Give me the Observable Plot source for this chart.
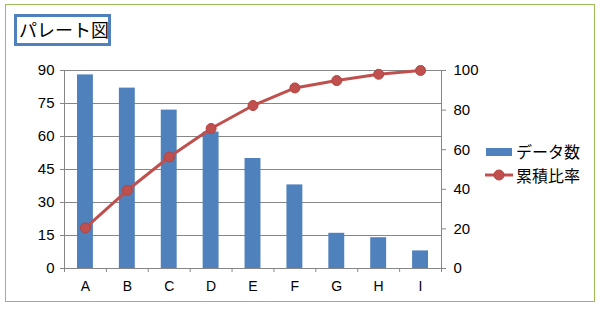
<!DOCTYPE html>
<html><head><meta charset="utf-8">
<script src="https://cdn.jsdelivr.net/npm/d3@7"></script>
<script src="https://cdn.jsdelivr.net/npm/@observablehq/plot@0.6"></script>
<style>
body{margin:0;background:#fff}
#wrap{position:relative;width:601px;height:309px;overflow:hidden;background:#fff}
#border{position:absolute;left:5px;top:4px;width:590px;height:298px;border:1px solid #9BBB59;box-sizing:border-box}
#title{position:absolute;left:14px;top:14px;width:97px;height:32px;box-sizing:border-box;border:3px solid #4F81BD;
  font-family:"Noto Sans CJK JP",sans-serif;font-size:18px;line-height:25px;padding-left:2px;color:#000;white-space:nowrap;background:#fff}
#chart{position:absolute;left:0;top:0}
.leg{position:absolute;font-family:"Noto Sans CJK JP",sans-serif;font-size:16px;color:#000;white-space:nowrap;display:flex;align-items:center}
.leg svg{margin-right:1px}
</style></head>
<body>
<div id="wrap">
  <div id="border"></div>
  <div id="chart"></div>
  <div id="title">パレート図</div>
  <div class="leg" id="leg1" style="left:485px;top:139px;height:24px"></div>
  <div class="leg" id="leg2" style="left:484px;top:163px;height:24px"></div>
</div>
<script>
const categories = ["A","B","C","D","E","F","G","H","I"];
const counts = [88, 82, 72, 62, 50, 38, 16, 14, 8];
const ratios = [20.5, 39.5, 56.3, 70.7, 82.3, 91.2, 94.9, 98.1, 100];
const leftTicks = [0, 15, 30, 45, 60, 75, 90];
const rightTicks = [0, 20, 40, 60, 80, 100];
const seriesNames = ["データ数", "累積比率"];

const barColor = "#4F81BD";
const lineColor = "#C0504D";
const gridColor = "#868686";

const W = 601, H = 309, mL = 64, mR = 160, mT = 70, mB = 41;
const step = (W - mL - mR) / categories.length;
const rightMax = 100, leftMax = 90;
const toLeft = v => v * leftMax / rightMax;

const data = categories.map((c, i) => ({cat: c, count: counts[i], ratio: ratios[i]}));

const chart = Plot.plot({
  width: W, height: H,
  marginLeft: mL, marginRight: mR, marginTop: mT, marginBottom: mB,
  style: {fontFamily: "Arial, 'Liberation Sans', sans-serif", background: "transparent", color: "#000"},
  x: {type: "band", domain: categories, paddingInner: 0.62, paddingOuter: 0.31, round: false, label: null},
  y: {domain: [0, leftMax], label: null},
  marks: [
    Plot.gridY(leftTicks.filter(d => d > 0), {stroke: gridColor, strokeOpacity: 1}),
    Plot.barY(data, {x: "cat", y: "count", fill: barColor}),
    Plot.ruleY([0], {stroke: gridColor, insetRight: -4}),
    Plot.ruleX(categories, {x: d => d, y1: 0, y2: -1.8, dx: -step / 2, stroke: gridColor}),
    Plot.ruleX(categories.slice(0, 1), {x: d => d, y1: 0, y2: leftMax, dx: -step / 2, stroke: gridColor}),
    Plot.ruleX(categories.slice(-1), {x: d => d, y1: -1.8, y2: leftMax, dx: step / 2, stroke: gridColor}),
    Plot.axisY(leftTicks, {anchor: "left", tickSize: 4, tickPadding: 6, stroke: gridColor, fontSize: 15, fill: "#000", label: null}),
    Plot.axisY(rightTicks.map(toLeft), {anchor: "right", tickSize: 4, tickPadding: 8, stroke: gridColor, fontSize: 15, fill: "#000",
      tickFormat: d => String(Math.round(d * rightMax / leftMax)), label: null}),
    Plot.axisX({tickSize: 0, tickPadding: 13, fontSize: 14, fill: "#000", label: null}),
    Plot.line(data, {x: "cat", y: d => toLeft(d.ratio), stroke: lineColor, strokeWidth: 3}),
    Plot.dot(data, {x: "cat", y: d => toLeft(d.ratio), r: 5, fill: lineColor, stroke: "#B5433F", strokeWidth: 1})
  ]
});
document.getElementById("chart").appendChild(chart);

document.getElementById("leg1").innerHTML =
  `<svg width="30" height="24"><rect x="1" y="9" width="26" height="8" fill="${barColor}"/></svg><span>${seriesNames[0]}</span>`;
document.getElementById("leg2").innerHTML =
  `<svg width="31" height="24"><line x1="1" y1="12" x2="29" y2="12" stroke="${lineColor}" stroke-width="3"/><circle cx="15" cy="12" r="5" fill="${lineColor}" stroke="#B5433F"/></svg><span>${seriesNames[1]}</span>`;
</script>
</body></html>
